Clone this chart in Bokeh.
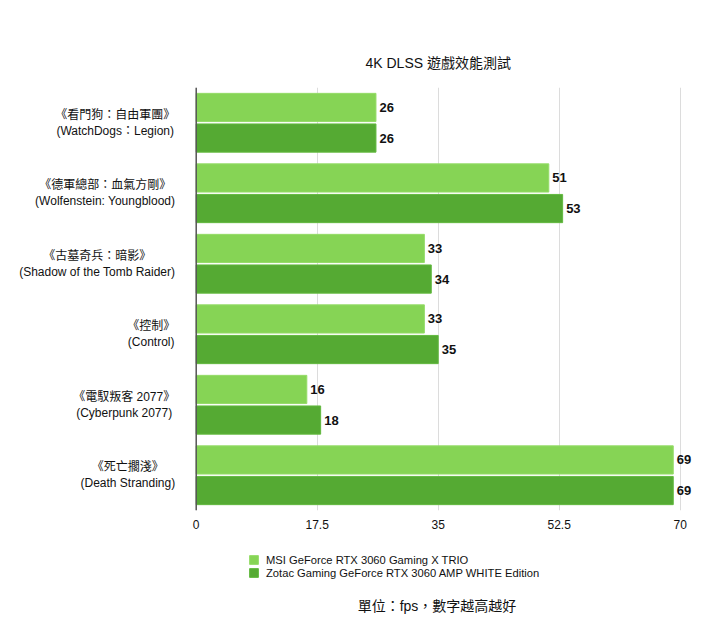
from bokeh.plotting import figure
from bokeh.layouts import column
from bokeh.models import (Range1d, FixedTicker, Legend, LegendItem, Span,
                          ColumnDataSource, NumeralTickFormatter, Label)
from bokeh.core.properties import value
from bokeh.embed import file_html
from bokeh.resources import INLINE

# ---- data ----
games_zh = ["《看門狗：自由軍團》", "《德軍總部：血氣方剛》", "《古墓奇兵：暗影》",
            "《控制》", "《電馭叛客 2077》", "《死亡擱淺》"]
games_en = ["(WatchDogs：Legion)", "(Wolfenstein: Youngblood)",
            "(Shadow of the Tomb Raider)", "(Control)", "(Cyberpunk 2077)",
            "(Death Stranding)"]
msi = [26, 51, 33, 33, 16, 69]
zotac = [26, 53, 34, 35, 18, 69]
series_names = ["MSI GeForce RTX 3060 Gaming X TRIO",
                "Zotac Gaming GeForce RTX 3060 AMP WHITE Edition"]
x_ticks = [0, 17.5, 35, 52.5, 70]
title_text = "4K DLSS 遊戲效能測試"
note_text = "單位：fps，數字越高越好"

MIX = "Liberation Sans, Noto Sans CJK TC"
LAT = "Liberation Sans"
LIGHT = "#86d455"
DARK = "#55aa33"
LIGHT_EDGE = "#95dc68"
DARK_EDGE = "#62b93f"
INK = "#111111"

n = len(games_zh)
centers = [n - 1 - i for i in range(n)]
off = 0.217
bh = 0.40

src_a = ColumnDataSource(dict(y=[c + off for c in centers], v=msi,
                              t=[str(v) for v in msi]))
src_b = ColumnDataSource(dict(y=[c - off for c in centers], v=zotac,
                              t=[str(v) for v in zotac]))
src_lab = ColumnDataSource(dict(y=centers, x=[0] * n,
                                t=[zh + "\n" + en for zh, en in
                                   zip(games_zh, games_en)]))

W = 712


def panel(h):
    f = figure(width=W, height=h, output_backend="svg", toolbar_location=None,
               x_range=Range1d(0, 690), y_range=Range1d(0, h),
               x_axis_type=None, y_axis_type=None,
               min_border_left=10, min_border_right=12,
               min_border_top=0, min_border_bottom=0, outline_line_color=None)
    f.grid.visible = False
    return f


# ---- top panel: title ----
TH = 70
t = panel(TH)
t.add_layout(Label(x=355, y=8, x_units="screen", y_units="screen",
                   text=title_text, text_align="left",
                   text_baseline="middle", text_font=MIX,
                   text_font_size="14px", text_color=INK))

# ---- main chart ----
p = figure(width=W, height=466, output_backend="svg", toolbar_location=None,
           x_range=Range1d(-26.86, 72.94), y_range=Range1d(-0.5, n - 0.5),
           y_axis_type=None,
           min_border_left=10, min_border_right=12,
           min_border_top=17, min_border_bottom=26,
           outline_line_color=None)

r1 = p.hbar(y="y", right="v", left=0, height=bh, source=src_a,
            fill_color=LIGHT, line_color=LIGHT_EDGE, line_width=1)
r2 = p.hbar(y="y", right="v", left=0, height=bh, source=src_b,
            fill_color=DARK, line_color=DARK_EDGE, line_width=1)

for s in (src_a, src_b):
    p.text(x="v", y="y", text="t", source=s, x_offset=3.5,
           text_align="left", text_baseline="middle",
           text_font=value(LAT), text_font_style="bold",
           text_font_size="13px", text_color=INK)

# category labels (two lines, centred lines in a right-anchored block)
p.text(x="x", y="y", text="t", source=src_lab, x_offset=-21,
       anchor="center_right", text_align="center", text_baseline="middle",
       text_font=value(MIX), text_font_size="12px", text_color=INK,
       text_line_height=1.15)

# value axis baseline
p.add_layout(Span(location=0, dimension="height", line_color="#555555",
                  line_width=1.5))

# grid
p.xgrid.ticker = FixedTicker(ticks=x_ticks)
p.xgrid.grid_line_color = "#dcdcdc"
p.xgrid.grid_line_width = 1

# x axis
p.xaxis.ticker = FixedTicker(ticks=x_ticks)
p.xaxis.formatter = NumeralTickFormatter(format="0.[0]")
p.xaxis.axis_line_color = None
p.xaxis.major_tick_line_color = None
p.xaxis.minor_tick_line_color = None
p.xaxis.major_label_text_font = LAT
p.xaxis.major_label_text_font_size = "12px"
p.xaxis.major_label_text_color = INK
p.xaxis.major_label_standoff = 3

# ---- lower panel: legend + note ----
QH = 92
q = panel(QH)
swatch = ColumnDataSource(dict(y=[-1000], v=[-1000]))
g1 = q.hbar(y="y", right="v", left=-1001, height=1, source=swatch,
            fill_color=LIGHT, line_color=LIGHT_EDGE)
g2 = q.hbar(y="y", right="v", left=-1001, height=1, source=swatch,
            fill_color=DARK, line_color=DARK_EDGE)

legend = Legend(items=[LegendItem(label=series_names[0], renderers=[g1]),
                       LegendItem(label=series_names[1], renderers=[g2])],
                location=(238, 49), orientation="vertical",
                border_line_color=None, background_fill_alpha=0,
                label_text_font=LAT, label_text_font_size="11.2px",
                label_text_color=INK,
                glyph_width=11, glyph_height=11, label_height=13,
                label_standoff=7, spacing=0, padding=0, margin=0)
q.add_layout(legend, "center")

q.add_layout(Label(x=426.5, y=23, x_units="screen", y_units="screen",
                   text=note_text, text_align="center",
                   text_baseline="middle", text_font=MIX,
                   text_font_size="14px", text_color=INK))

layout = column(t, p, q, spacing=0)
open("out.html", "w").write(file_html(layout, INLINE))
